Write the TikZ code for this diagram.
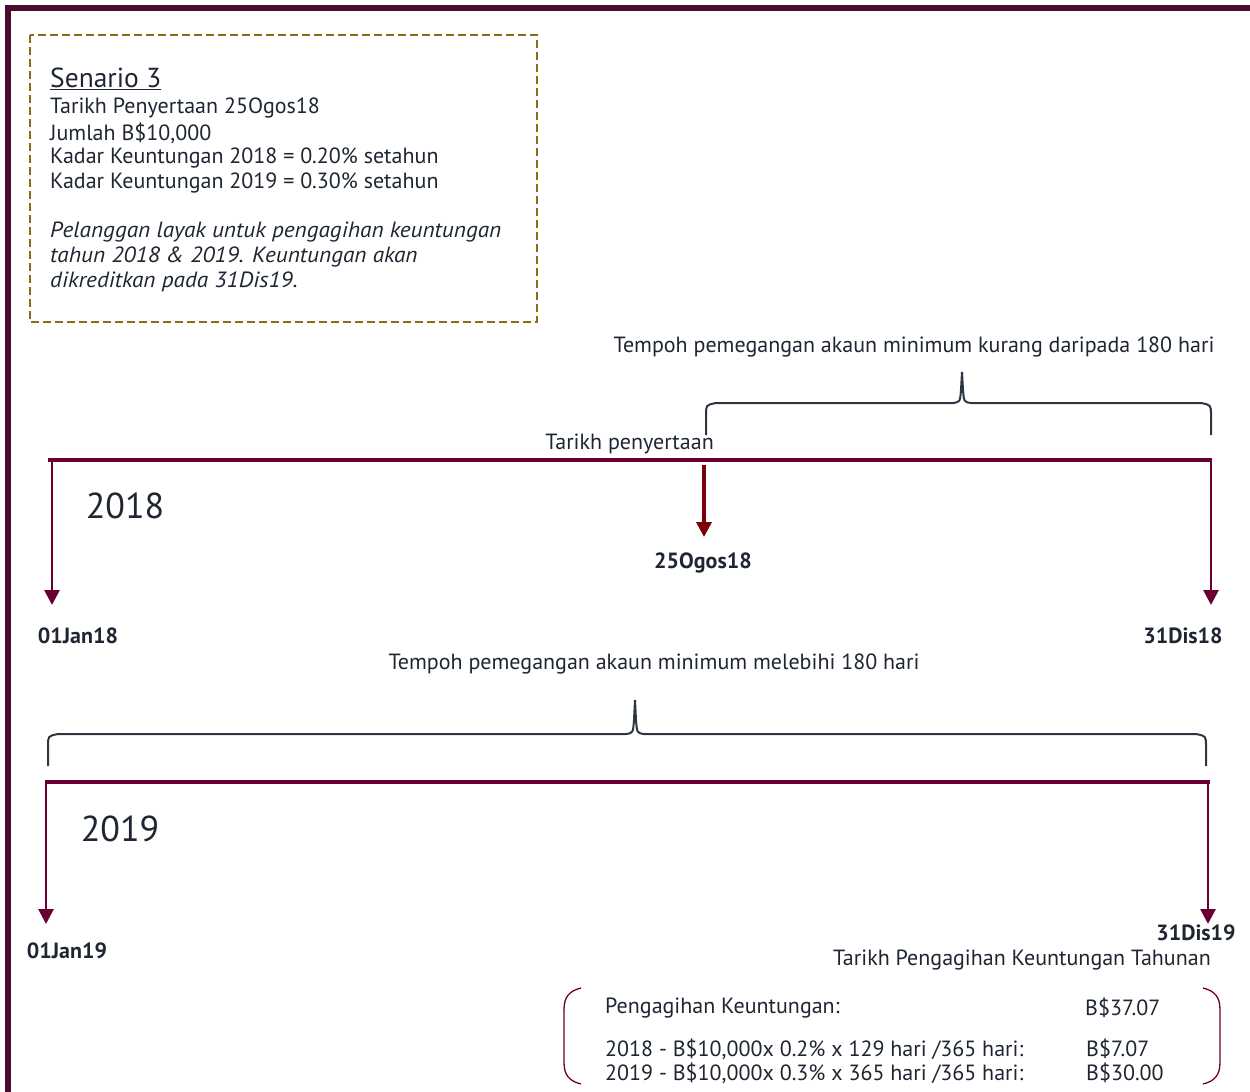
\documentclass[tikz,border=0pt]{standalone}
\usepackage{fontspec}
\usepackage{graphicx}
\setmainfont{PT Sans}
\usetikzlibrary{arrows.meta}
\definecolor{txt}{RGB}{30,38,50}
\definecolor{maroon}{RGB}{106,0,50}
\definecolor{darkred}{RGB}{122,0,12}
\definecolor{frame}{RGB}{75,12,50}
\definecolor{gold}{RGB}{140,108,20}
\definecolor{brace}{RGB}{45,54,64}
\newcommand{\wideit}[1]{\scalebox{1.06}[1]{\itshape #1}}
\tikzset{
  lbl/.style={inner sep=0pt, text=txt, font=\fontsize{22}{25}\selectfont},
  lblw/.style={lbl, anchor=west},
  blbl/.style={inner sep=0pt, text=txt, font=\fontsize{22}{25}\selectfont\bfseries},
  year/.style={inner sep=0pt, text=txt, font=\fontsize{36}{40}\selectfont},
  tl/.style={draw=maroon, line width=4pt},
  tarr/.style={draw=maroon, line width=2.8pt, -{Triangle[width=15pt,length=15pt]}},
  marr/.style={draw=darkred, line width=3.5pt, -{Triangle[width=15pt,length=15pt]}},
  bracepath/.style={draw=brace, line width=2pt},
  parenpath/.style={draw=maroon, line width=1.3pt}
}
\begin{document}
\begin{tikzpicture}[x=1pt,y=-1pt]
\useasboundingbox (0,0) rectangle (1250,1092);
% outer frame
\draw[frame, line width=6pt] (8,1120) -- (8,8) -- (1270,8);
% dashed box
\draw[gold, line width=2.5pt, dash pattern=on 8pt off 4pt] (30,35) rectangle (537,322);
\node[lblw, font=\fontsize{27.5}{30}\selectfont] (s0) at (50,79) {\underline{Senario 3}};
\node[lblw] (s1) at (50,108) {Tarikh Penyertaan 25Ogos18};
\node[lblw] (s2) at (50,133) {Jumlah B\$10,000};
\node[lblw] (s3) at (50,158) {Kadar Keuntungan 2018 = 0.20\% setahun};
\node[lblw] (s4) at (50,183) {Kadar Keuntungan 2019 = 0.30\% setahun};
\node[lblw] (s5) at (50,232) {\wideit{Pelanggan layak untuk pengagihan keuntungan}};
\node[lblw] (s6) at (50,257) {\wideit{tahun 2018 \& 2019. Keuntungan akan}};
\node[lblw] (s7) at (50,282) {\wideit{dikreditkan pada 31Dis19.}};
% top brace
\node[lbl] (b1t) at (914,347) {Tempoh pemegangan akaun minimum kurang daripada 180 hari};
\draw[bracepath] (706,435) -- (706,415) .. controls (706,405) .. (716,403) -- (953,403)
  .. controls (960,402) .. (961,390) -- (962,372) -- (963,390) .. controls (964,402) .. (971,403)
  -- (1201,403) .. controls (1211,405) .. (1211,415) -- (1211,435);
\node[lbl, anchor=east] (tp) at (714,444) {Tarikh penyertaan};
% 2018 timeline
\coordinate (a18) at (48,460);
\coordinate (b18) at (1212,460);
\coordinate (l18s) at (52,460);
\coordinate (l18e) at (52,605);
\coordinate (r18s) at (1211,460);
\coordinate (r18e) at (1211,605);
\coordinate (m18s) at (704,465);
\coordinate (m18e) at (704,537);
\draw[tarr] (l18s) -- (l18e);
\draw[tarr] (r18s) -- (r18e);
\draw[tl] (a18) -- (b18);
\draw[marr] (m18s) -- (m18e);
\node[year] (y18) at (125,506) {2018};
\node[blbl] (d1) at (703,563) {25Ogos18};
\node[blbl] (d2) at (78,636) {01Jan18};
\node[blbl] (d3) at (1183,636) {31Dis18};
% bottom brace
\node[lbl] (b2t) at (654,664) {Tempoh pemegangan akaun minimum melebihi 180 hari};
\draw[bracepath] (48,766) -- (48,746) .. controls (48,736) .. (58,734) -- (626,734)
  .. controls (633,733) .. (634,720) -- (635,700) -- (636,720) .. controls (637,733) .. (644,734)
  -- (1196,734) .. controls (1206,736) .. (1206,746) -- (1206,766);
% 2019 timeline
\coordinate (a19) at (45,782);
\coordinate (b19) at (1210,782);
\coordinate (l19s) at (46,782);
\coordinate (l19e) at (46,924);
\coordinate (r19s) at (1208,782);
\coordinate (r19e) at (1208,924);
\draw[tarr] (l19s) -- (l19e);
\draw[tarr] (r19s) -- (r19e);
\draw[tl] (a19) -- (b19);
\node[year] (y19) at (120,829) {2019};
\node[blbl] (d4) at (67,951) {01Jan19};
\node[blbl] (d5) at (1196,933) {31Dis19};
\node[lbl, anchor=east] (tpk) at (1211,960) {Tarikh Pengagihan Keuntungan Tahunan};
% result bracket
\draw[parenpath] (581,988) .. controls (569,991) and (564,997) .. (564,1010) -- (564,1062)
  .. controls (564,1075) and (569,1081) .. (581,1084);
\draw[parenpath] (1203,988) .. controls (1215,991) and (1220,997) .. (1220,1010) -- (1220,1062)
  .. controls (1220,1075) and (1215,1081) .. (1203,1084);
\node[lblw] (p1) at (605,1008) {Pengagihan Keuntungan:};
\node[lblw] (p1v) at (1085,1008) {B\$37.07};
\node[lblw] (p2) at (605,1049) {2018 - B\$10,000x 0.2\% x 129 hari /365 hari:};
\node[lblw] (p2v) at (1086,1049) {B\$7.07};
\node[lblw] (p3) at (605,1073) {2019 - B\$10,000x 0.3\% x 365 hari /365 hari:};
\node[lblw] (p3v) at (1086,1073) {B\$30.00};
\end{tikzpicture}
\end{document}
